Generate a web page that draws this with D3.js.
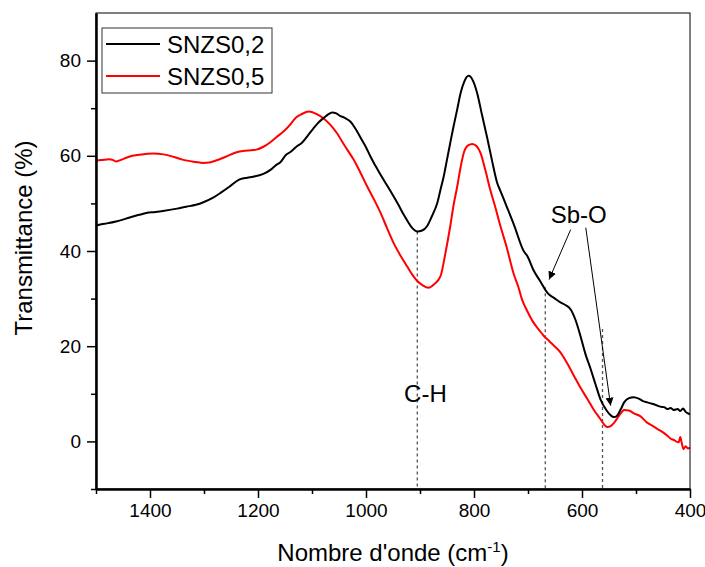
<!DOCTYPE html>
<html>
<head>
<meta charset="utf-8">
<script src="https://cdn.jsdelivr.net/npm/d3@7"></script>
<style>
  body { margin: 0; background: #fff; }
  svg text { font-family: "Liberation Sans", Arial, sans-serif; fill: #000; }
</style>
</head>
<body>
<div id="chart"></div>
<script>
// wavenumber (cm-1) and transmittance (%)
const waveA = [1500,1490,1480,1463,1450,1439,1420,1407,1390,1376,1350,1333,1315,1300,1283,1268,1253,1235,1220,1209,1190,1175,1166,1159,1148,1140,1129,1119,1108,1097,1088,1079,1070,1063,1055,1048,1040,1029,1020,1011,1000,992,983,973,960,949,940,930,922,915,905,896,887,878,868,862,856,850,844,838,831,825,818,810,802,794,785,776,767,757,751,740,726,708,701,690,677,664,650,640,630,621,612,603,594,584,575,566,555,547,541,535,528,522,513,504,495,486,479,470,462,455,448,442,436,430,423,418,413,408,402,400];
const transA = [45.3,45.6,45.8,46.2,46.6,47.0,47.6,48.0,48.2,48.4,48.9,49.3,49.7,50.3,51.2,52.3,53.5,55.0,55.4,55.6,56.2,57.2,58.1,58.6,60.2,60.8,61.9,62.7,64.2,65.8,67.0,67.9,68.7,69.1,68.9,68.4,68.0,67.2,65.8,64.0,61.8,59.9,58.0,56.0,53.6,51.5,49.7,47.6,46.1,44.9,44.1,44.3,45.2,47.3,50.1,52.9,55.7,59.2,62.7,66.1,69.8,73.1,75.6,76.8,75.8,73.1,68.5,64.0,59.2,54.3,52.6,49.5,45.5,40.0,38.9,36.0,33.6,31.2,30.0,29.2,28.6,27.7,25.5,22.2,18.5,15.2,12.0,8.9,6.6,5.5,5.1,5.4,6.8,8.2,9.1,9.3,9.0,8.4,8.2,7.9,7.6,7.3,7.2,6.8,7.0,6.6,6.8,6.4,6.9,6.2,5.8,5.7];

const waveB = [1500,1490,1476,1468,1463,1455,1439,1420,1394,1375,1357,1340,1315,1302,1290,1278,1260,1241,1220,1203,1190,1179,1166,1153,1140,1134,1129,1120,1106,1092,1079,1066,1054,1040,1023,1010,998,985,973,961,949,936,924,914,905,895,884,874,862,853,844,838,831,825,819,811,803,795,788,779,770,760,751,740,726,718,711,701,690,680,671,660,650,640,628,615,603,590,578,566,558,553,547,540,530,522,513,504,491,480,470,460,450,442,436,430,421,418,415,412,408,404,400];
const transB = [59.0,59.1,59.3,59.1,58.8,59.1,59.8,60.2,60.5,60.3,59.8,59.2,58.7,58.5,58.6,59.0,59.8,60.7,61.1,61.3,61.9,62.7,63.9,65.1,66.6,67.5,68.1,68.7,69.3,68.8,67.9,66.5,64.8,62.2,59.2,56.4,53.6,50.8,48.0,44.8,41.7,39.0,36.8,35.0,33.7,32.8,32.3,33.0,34.7,39.5,45.2,49.5,53.6,57.5,60.6,62.2,62.5,62.0,60.6,57.0,52.9,49.0,45.2,41.0,35.0,32.5,29.8,27.3,25.0,23.5,22.2,21.0,19.9,18.7,16.5,13.8,11.3,8.9,6.6,4.7,3.4,3.0,3.2,4.0,5.6,6.6,6.5,5.9,5.2,4.0,3.3,2.6,1.9,1.2,0.6,0.3,-0.2,0.9,-0.5,-1.6,-1.0,-1.5,-1.3];

const seriesNames = ["SNZS0,2", "SNZS0,5"];
const seriesColors = ["#000000", "#ff0000"];

const xTicks = [1400, 1200, 1000, 800, 600, 400];
const xMinor = [1500, 1300, 1100, 900, 700, 500];
const yTicks = [0, 20, 40, 60, 80];
const yMinor = [-10, 10, 30, 50, 70];

// dashed guide lines: wavenumber and top value
const guideWave = [905, 668, 562];
const guideTop = [44.1, 32.4, 23.6];

const width = 705, height = 567;
const margin = { top: 13, right: 15, bottom: 78, left: 96 };

const svg = d3.select("#chart").append("svg")
    .attr("width", width)
    .attr("height", height);

const x = d3.scaleLinear().domain([1500, 400]).range([margin.left, width - margin.right]);
const y = d3.scaleLinear().domain([-10, 90]).range([height - margin.bottom, margin.top]);

// guide lines under the curves
svg.selectAll(".guide")
    .data(guideWave)
    .enter()
    .append("line")
    .attr("x1", d => x(d)).attr("x2", d => x(d))
    .attr("y1", (d, i) => y(guideTop[i]))
    .attr("y2", y(-10))
    .attr("stroke", "#555")
    .attr("stroke-width", 1.3)
    .attr("stroke-dasharray", "3,3");

const line = d3.line()
    .x(d => x(d[0]))
    .y(d => y(d[1]))
    .curve(d3.curveMonotoneX);

const seriesData = [
    d3.zip(waveA, transA),
    d3.zip(waveB, transB)
];

// red drawn first so black sits on top
[1, 0].forEach(i => {
    svg.append("path")
        .datum(seriesData[i])
        .attr("fill", "none")
        .attr("stroke", seriesColors[i])
        .attr("stroke-width", 2)
        .attr("stroke-linejoin", "round")
        .attr("d", line);
});

// frame
svg.append("rect")
    .attr("x", x(1500)).attr("y", y(90))
    .attr("width", x(400) - x(1500))
    .attr("height", y(-10) - y(90))
    .attr("fill", "none")
    .attr("stroke", "#000")
    .attr("stroke-width", 1);

// axes
svg.append("g")
    .attr("transform", `translate(0,${y(-10)})`)
    .call(d3.axisBottom(x).tickValues(xTicks).tickSize(9).tickSizeOuter(0).tickPadding(6).tickFormat(d3.format("d")));
svg.append("g")
    .attr("transform", `translate(0,${y(-10)})`)
    .call(d3.axisBottom(x).tickValues(xMinor).tickSize(5).tickSizeOuter(0).tickFormat(""));

svg.append("g")
    .attr("transform", `translate(${x(1500)},0)`)
    .call(d3.axisLeft(y).tickValues(yTicks).tickSize(9).tickSizeOuter(0).tickPadding(6));
svg.append("g")
    .attr("transform", `translate(${x(1500)},0)`)
    .call(d3.axisLeft(y).tickValues(yMinor).tickSize(5).tickSizeOuter(0).tickFormat(""));

svg.selectAll(".domain").attr("stroke-width", 2);
svg.selectAll(".tick line").attr("stroke-width", 1.5);
svg.selectAll(".tick text").style("font-size", "19px");

// axis titles
svg.append("text")
    .attr("x", (x(1500) + x(400)) / 2)
    .attr("y", 561)
    .attr("text-anchor", "middle")
    .style("font-size", "24px")
    .html("Nombre d'onde (cm<tspan dy='-9' style='font-size:15px'>-1</tspan><tspan dy='9'>)</tspan>");

svg.append("text")
    .attr("transform", "translate(32,238) rotate(-90)")
    .attr("text-anchor", "middle")
    .style("font-size", "24px")
    .text("Transmittance (%)");

// annotations
svg.append("defs").append("marker")
    .attr("id", "arrow")
    .attr("viewBox", "0 0 10 10")
    .attr("refX", 10).attr("refY", 5)
    .attr("markerWidth", 8).attr("markerHeight", 8)
    .attr("markerUnits", "userSpaceOnUse")
    .attr("orient", "auto")
    .append("path")
    .attr("d", "M0,0 L10,5 L0,10 z")
    .attr("fill", "#000");

const arrowFrom = [[621, 44.5], [593, 44.9]];
const arrowTo = [[661, 34.0], [547, 7.5]];
arrowFrom.forEach((p, i) => {
    svg.append("line")
        .attr("x1", x(p[0])).attr("y1", y(p[1]))
        .attr("x2", x(arrowTo[i][0])).attr("y2", y(arrowTo[i][1]))
        .attr("stroke", "#000")
        .attr("stroke-width", 1)
        .attr("marker-end", "url(#arrow)");
});

svg.append("text")
    .attr("x", x(606)).attr("y", y(45.9))
    .attr("text-anchor", "middle")
    .style("font-size", "24px")
    .text("Sb-O");

svg.append("text")
    .attr("x", x(890)).attr("y", y(8.3))
    .attr("text-anchor", "middle")
    .style("font-size", "24px")
    .text("C-H");

// legend
const legend = svg.append("g");
legend.append("rect")
    .attr("x", 102).attr("y", 28)
    .attr("width", 170).attr("height", 65)
    .attr("fill", "#fff")
    .attr("stroke", "#333")
    .attr("stroke-width", 1);
seriesNames.forEach((name, i) => {
    const ly = 44 + i * 32;
    legend.append("line")
        .attr("x1", 106).attr("x2", 160)
        .attr("y1", ly).attr("y2", ly)
        .attr("stroke", seriesColors[i])
        .attr("stroke-width", 2);
    legend.append("text")
        .attr("x", 167).attr("y", ly + 9)
        .style("font-size", "24px")
        .text(name);
});
</script>
</body>
</html>
